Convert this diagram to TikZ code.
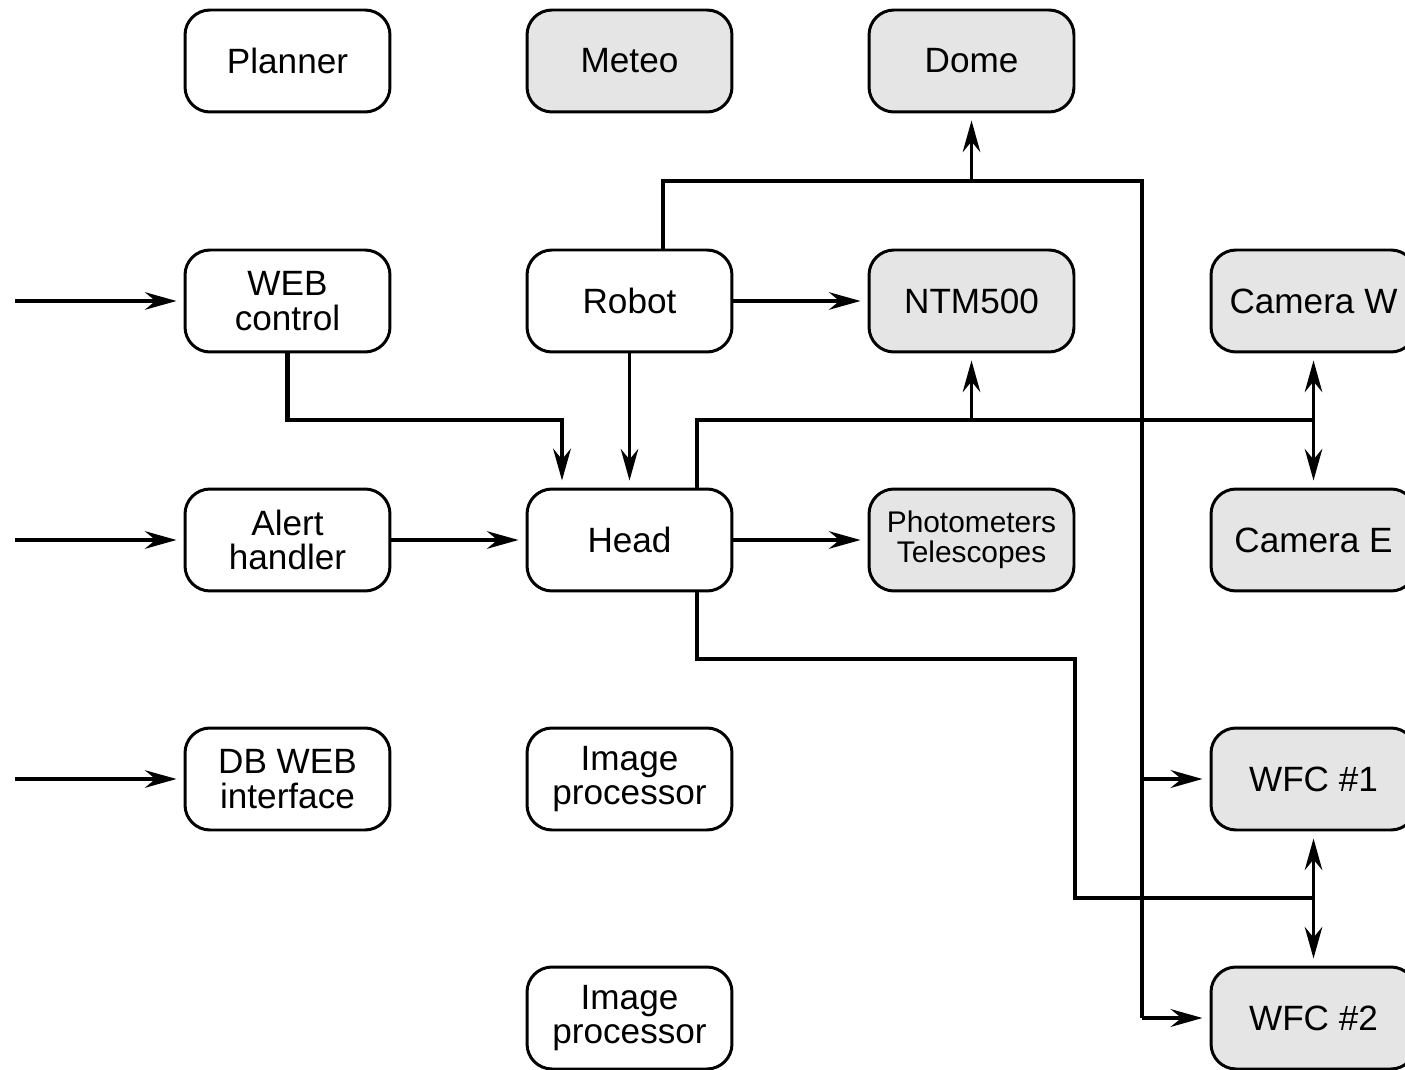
\documentclass[tikz,border=0pt]{standalone}
\usepackage{fontspec}
\setmainfont{Liberation Sans}
\usetikzlibrary{arrows.meta,calc}
\definecolor{boxgray}{gray}{0.9}

\begin{document}
\begin{tikzpicture}[x=0.02cm,y=-0.02cm,
	block/.style={draw,line width=1.7pt,rounded corners=0.5cm,minimum width=4.1cm,minimum height=2.04cm,align=center,font=\fontsize{20}{19.5}\selectfont},
	hw/.style={block,fill=boxgray},
	sw/.style={block,fill=white},
	link/.style={line width=1.8pt},
	bus/.style={line width=2.8pt},
	arr/.style={-{Stealth[length=18pt,width=10pt,inset=6pt]},shorten >=0.14cm}]
	\useasboundingbox (0,0) rectangle (1405,1070);
	
	% boxes
	\node[sw] (planner) at (287.5,61) {Planner};
	\node[hw] (meteo) at (629.5,61) {Meteo};
	\node[hw] (dome) at (971.5,61) {Dome};
	\node[sw] (web) at (287.5,301) {WEB\\control};
	\node[sw] (robot) at (629.5,301) {Robot};
	\node[hw] (ntm) at (971.5,301) {NTM500};
	\node[hw] (camw) at (1313.5,301) {Camera W};
	\node[sw] (alert) at (287.5,540) {Alert\\handler};
	\node[sw] (head) at (629.5,540) {Head};
	\node[hw,font=\fontsize{17}{17}\selectfont] (photo) at (971.5,540) {Photometers\\Telescopes};
	\node[hw] (came) at (1313.5,540) {Camera E};
	\node[sw] (db) at (287.5,779) {DB WEB\\interface};
	\node[sw] (imgA) at (629.5,779) {Image\\processor};
	\node[hw] (wfcA) at (1313.5,779) {WFC \#1};
	\node[sw] (imgB) at (629.5,1018) {Image\\processor};
	\node[hw] (wfcB) at (1313.5,1018) {WFC \#2};
	
	% junctions
	\coordinate (inA) at (15,301);
	\coordinate (inB) at (15,540);
	\coordinate (inC) at (15,779);
	\coordinate (headL) at ($(head.north)+(-67.5,0)$);
	\coordinate (headR) at ($(head.north)+(67.5,0)$);
	\coordinate (headD) at ($(head.south)+(67.5,0)$);
	\coordinate (robotU) at ($(robot.north)+(33.5,0)$);
	\coordinate (domeJ) at (971.5,181);
	\coordinate (wfcJ) at (1142,181);
	\coordinate (ntmJ) at (971.5,420);
	\coordinate (camJ) at (1313.5,420);
	\coordinate (turnJ) at (1075,659);
	\coordinate (wfcBus) at (1313.5,898);
	
	% inputs
	\draw[link,arr] (inA) -- (web);
	\draw[link,arr] (inB) -- (alert);
	\draw[link,arr] (inC) -- (db);
	
	\draw[bus,arr] (web.south) |- (headL |- ntmJ) -- (headL);
	\draw[link,arr] (robot) -- (head);
	\draw[link,arr] (robot) -- (ntm);
	\draw[link,arr] (alert) -- (head);
	\draw[link,arr] (head) -- (photo);
	
	% robot to dome and wfc
	\draw[link] (robotU) |- (wfcJ) -- (wfcJ |- wfcB);
	\draw[link,arr] (domeJ) -- (dome);
	\draw[bus,arr] (wfcJ |- wfcA) -- (wfcA);
	\draw[bus,arr] (wfcJ |- wfcB) -- (wfcB);
	
	% head to ntm and cameras
	\draw[link] (headR) |- (ntmJ);
	\draw[bus] (ntmJ) -- (camJ);
	\draw[link,arr] (ntmJ) -- (ntm);
	\draw[link,arr] (camJ) -- (camw);
	\draw[link,arr] (camJ) -- (came);
	
	% head to wfc
	\draw[link] (headD) |- (turnJ) |- (wfcBus);
	\draw[link,arr] (wfcBus) -- (wfcA);
	\draw[link,arr] (wfcBus) -- (wfcB);
\end{tikzpicture}
\end{document}
